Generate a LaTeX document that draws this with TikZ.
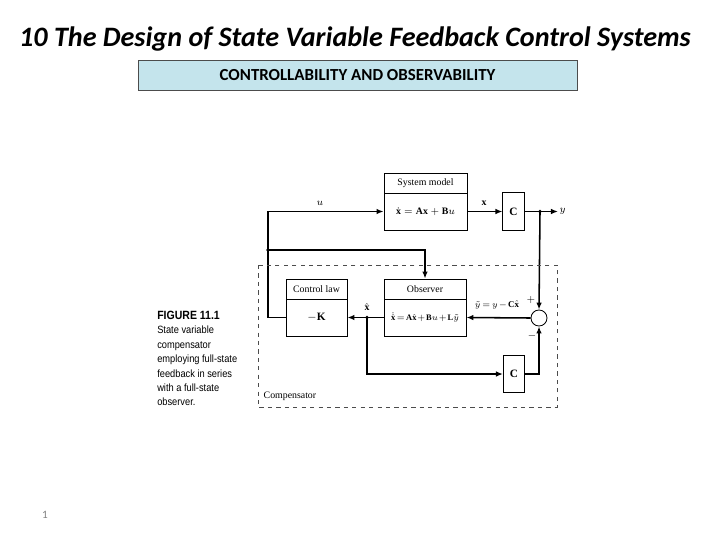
\documentclass[tikz,border=0pt]{standalone}
\usepackage{fontspec}
\setmainfont{Liberation Serif}
\newfontfamily\titlefont{Carlito}
\newfontfamily\capfont{Liberation Sans}[FakeStretch=0.88]
\usetikzlibrary{positioning, calc, arrows.meta}
\definecolor{bannercol}{RGB}{196,228,236}

\begin{document}
\begin{tikzpicture}[x=0.025cm, y=-0.025cm,
            blk/.style={rectangle, draw, line width=0.6pt, inner sep=0pt, font=\fontsize{7}{8}\selectfont},
            hdr/.style={blk, minimum height=0.5cm},
            body/.style={blk, minimum height=0.925cm},
            gain/.style={blk, minimum width=0.53cm, minimum height=0.93cm, font=\bfseries\fontsize{8}{9}\selectfont},
            sumj/.style={circle, draw, line width=0.6pt, minimum size=0.4cm, inner sep=0pt},
            sig/.style={-{Latex[length=5pt,width=4pt]}, line width=1.1pt},
            lbl/.style={font=\fontsize{7}{8}\selectfont, inner sep=1pt},
            capt/.style={font=\capfont\fontsize{7.5}{10.2}\selectfont, align=left, anchor=north west, inner sep=0pt}
        ]
            \useasboundingbox (0,0) rectangle (720,540);

            % --- title ---
            \node[font=\titlefont\bfseries\itshape\fontsize{20}{22}\selectfont] (title) at (355,39) {10 The Design of State Variable Feedback Control Systems};
            \node[rectangle, draw=black!70, fill=bannercol, minimum width=10.975cm, minimum height=0.75cm, inner sep=0pt,
                  font=\titlefont\bfseries\fontsize{12}{14}\selectfont] (banner) at (357.5,75) {CONTROLLABILITY AND OBSERVABILITY};

            % --- blocks ---
            \node[hdr, minimum width=2.075cm] (sysh) at (425.5,183) {System model};
            \node[body, minimum width=2.075cm] (sysb) at (425.5,211.5) {$\dot{\mathbf{x}} = \mathbf{A}\mathbf{x} + \mathbf{B}u$};
            \node[gain] (ctop) at (513.5,211.5) {C};

            \node[hdr, minimum width=1.525cm] (clh) at (316.5,289) {Control law};
            \node[body, minimum width=1.525cm, font=\bfseries\fontsize{8}{9}\selectfont] (clb) at (316.5,317.5) {$-\mathbf{K}$};
            \node[hdr, minimum width=2.05cm] (obsh) at (425,289) {Observer};
            \node[body, minimum width=2.05cm, font=\fontsize{6}{7}\selectfont] (obsb) at (425,317.5)
                {\medmuskip=1.5mu\thickmuskip=2.5mu$\dot{\hat{\mathbf{x}}} = \mathbf{A}\hat{\mathbf{x}} + \mathbf{B}u + \mathbf{L}\tilde{y}$};
            \node[gain] (cbot) at (514,374) {C};
            \node[sumj] (sum) at (539,318) {};

            % --- points ---
            \coordinate (cu) at (268,211.5);
            \coordinate (jb) at (268,250);
            \coordinate (jy) at (540,211.5);
            \coordinate (jx) at (367,317.5);
            \node[lbl, anchor=west] (ylab) at (558,211.5) {$y$};

            % --- signals ---
            \draw[sig] (sysb.east) -- (ctop.west);
            \draw[sig] (ctop.east) -- (ylab.west);
            \draw[sig] (jy) -- (sum.north);
            \draw[sig] (sum.west) -- (obsb.east);
            \draw[sig] (obsb.west) -- (clb.east);
            \draw[sig] (jx) |- (cbot.west);
            \draw[sig] (cbot.east) -| (sum.south);
            \draw[sig] (clb.west) -| (cu) -- (sysb.west);
            \draw[sig] (jb) -| (obsh.north);
            \foreach \j in {jb, jy, jx}
                \fill (\j) circle (1.4pt);

            % --- labels ---
            \node[lbl] (ulab) at (320,203) {$u$};
            \node[lbl] (xlab) at (484,203) {$\mathbf{x}$};
            \node[lbl] (xhlab) at (367,307) {$\hat{\mathbf{x}}$};
            \node[lbl, font=\fontsize{6.3}{7}\selectfont] (ytlab) at (497,305)
                {\medmuskip=2mu\thickmuskip=3mu$\tilde{y} = y - \mathbf{C}\hat{\mathbf{x}}$};
            \node[lbl] (plus) at (531,300) {$+$};
            \node[lbl] (minus) at (532,336) {$-$};

            % --- compensator ---
            \draw[dashed, black!70] (258,265) rectangle (557,407);
            \node[lbl, anchor=west] (comp) at (262,396) {Compensator};

            % --- caption ---
            \node[capt] (cap) at (157,311) {{\bfseries\fontsize{8.5}{10.2}\selectfont FIGURE 11.1}\\State variable\\compensator\\employing full-state\\feedback in series\\with a full-state\\observer.};

            \node[font=\titlefont\fontsize{8}{9}\selectfont, text=black!50] (page) at (45,515) {1};
        \end{tikzpicture}
\end{document}
